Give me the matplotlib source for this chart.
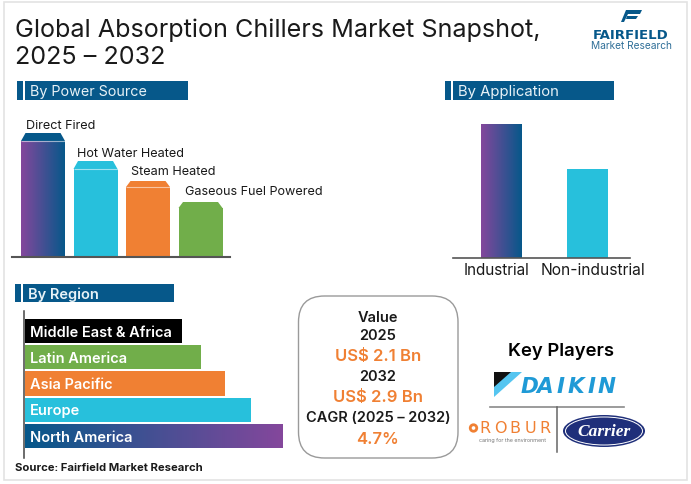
import matplotlib
matplotlib.use('Agg')
import matplotlib.pyplot as plt
import numpy as np
from matplotlib.colors import LinearSegmentedColormap
from matplotlib.patches import Rectangle, FancyBboxPatch, Ellipse, Polygon

plt.rcParams['font.family'] = ['Inter', 'DejaVu Sans']

W = 691
H = 485

PURPLE = '#84479c'
BLUE = '#06588a'
CYAN = '#27c0dc'
ORANGE = '#f08033'
GREEN = '#71ae4a'
BLACK = '#000000'
INK = '#1a1a1a'

# chart data
power_labels = ['Direct Fired', 'Hot Water Heated', 'Steam Heated', 'Gaseous Fuel Powered']
power_values = [125, 97, 77, 56]
power_caps = [BLUE, CYAN, ORANGE, GREEN]

app_labels = ['Industrial', 'Non-industrial']
app_values = [134, 89]

region_labels = ['North America', 'Europe', 'Asia Pacific', 'Latin America', 'Middle East & Africa']
region_values = [258, 226, 200, 176, 157]

snapshot_lines = ['Value', '2025', 'US$ 2.1 Bn', '2032', 'US$ 2.9 Bn', 'CAGR (2025 – 2032)', '4.7%']

fig = plt.figure(figsize=(W / 100, H / 100), dpi=100, facecolor='white')

# page layer in pixel coordinates, for frame, headers and logos
page = fig.add_axes([0, 0, 1, 1])
page.set_xlim(0, W)
page.set_ylim(H, 0)
page.axis('off')


def px_axes(x0, y0, x1, y1):
	# axes placed by pixel box of the reference
	ax = fig.add_axes([x0 / W, 1 - y1 / H, (x1 - x0) / W, (y1 - y0) / H])
	ax.patch.set_alpha(0)
	for s in ax.spines.values():
		s.set_visible(False)
	ax.set_xticks([])
	ax.set_yticks([])
	return ax


def gradient_fill(ax, patch, c0, c1):
	# paint a left to right gradient inside one bar
	cmap = LinearSegmentedColormap.from_list('g', [c0, c1])
	x, y = patch.get_xy()
	w, h = patch.get_width(), patch.get_height()
	xl, yl = ax.get_xlim(), ax.get_ylim()
	im = ax.imshow(np.linspace(0, 1, 256).reshape(1, -1), cmap=cmap, aspect='auto',
		extent=[x, x + w, y, y + h], zorder=patch.get_zorder() + 0.1)
	im.set_clip_path(patch)
	ax.set_xlim(xl)
	ax.set_ylim(yl)


def header(x0, x1, y0, y1, text, weight='normal', size=10.7):
	page.add_patch(Rectangle((x0, y0), x1 - x0, y1 - y0, color=BLUE, lw=0))
	page.add_patch(Rectangle((x0 + 6, y0), 2, y1 - y0, color='white', lw=0))
	page.text(x0 + 13, (y0 + y1) / 2 - 0.8, text, color='#e8f2f7', fontsize=size, weight=weight,
		ha='left', va='center_baseline')


def spaced_text(word, x0, x1, y, **kw):
	# logo lettering, one text per letter so it spans the logo width
	xs = np.linspace(x0, x1, len(word))
	for ch, x in zip(word, xs):
		page.text(x, y, ch, ha='center', va='center', **kw)


# outer frame
page.add_patch(Rectangle((4, 3), 683, 478, fill=False, ec='#e3e3e3', lw=1.2))

page.text(15, 30, 'Global Absorption Chillers Market Snapshot,', fontsize=18.1, color=INK, va='center')
page.text(15, 57, '2025 – 2032', fontsize=18.1, color=INK, va='center')

header(17, 188, 82, 101, 'By Power Source', size=10.3)
header(445, 614, 82, 101, 'By Application')
header(15, 174, 285, 303, 'By Region', weight='semibold', size=10.5)

# power source bars
ax1 = px_axes(12, 110, 230, 258)
ax1.set_xlim((12 - 43) / 52.5, (230 - 43) / 52.5)
ax1.set_ylim(0, 148)
cap_heights = [9, 9, 7, 7]
chamfer = 4.5 / 52.5
bw = 44 / 52.5
for i, v in enumerate(power_values):
	c = power_caps[i]
	cap_h = cap_heights[i]
	body = ax1.bar(i, v - cap_h, width=bw, color=c, lw=0, zorder=2)[0]
	if i == 0:
		gradient_fill(ax1, body, PURPLE, BLUE)
	ax1.fill([i - bw / 2, i - bw / 2 + chamfer, i + bw / 2 - chamfer, i + bw / 2],
		[v - cap_h, v - 1, v - 1, v - cap_h], color=c, lw=0, zorder=2)
	if i < 3:
		ax1.plot([i - bw / 2, i + bw / 2], [v - cap_h, v - cap_h], color='white', alpha=0.55,
			lw=0.8, zorder=3, solid_capstyle='butt')
ax1.plot(ax1.get_xlim(), [0, 0], color='#555555', lw=1.5, clip_on=False, zorder=3)
label_x = [26, 77, 131, 185]
label_y = [126, 154, 172, 192]
for i, name in enumerate(power_labels):
	page.text(label_x[i], label_y[i], name, fontsize=9.1, color=INK, ha='left', va='center')

# application bars
ax2 = px_axes(453, 110, 630, 259)
ax2.set_xlim((453 - 501.5) / 86, (630 - 501.5) / 86)
ax2.set_ylim(0, 149)
app_bars = ax2.bar(range(len(app_values)), app_values, width=41 / 86, color=CYAN, lw=0, zorder=2)
gradient_fill(ax2, app_bars[0], PURPLE, BLUE)
ax2.plot(ax2.get_xlim(), [0, 0], color='#555555', lw=1.2, clip_on=False, zorder=3)
page.text(497, 271, app_labels[0], fontsize=11, color=INK, ha='center', va='center')
page.text(593.5, 271, app_labels[1], fontsize=11.2, color=INK, ha='center', va='center')

# region bars
ax3 = px_axes(25, 312, 290, 459)
ax3.set_xlim(0, 265)
# rows spaced 26.3 px, lowest bar centred at y=437
ax3.set_ylim((437 - 459) / 26.3, (437 - 312) / 26.3)
region_colors = [BLUE, CYAN, ORANGE, GREEN, BLACK]
reg_bars = ax3.barh(range(len(region_values)), region_values, height=24.4 / 26.3,
	color=region_colors, lw=0, zorder=2)
gradient_fill(ax3, reg_bars[0], BLUE, PURPLE)
for i, name in enumerate(region_labels):
	ax3.text(5, i + 0.03, name, color='white', fontsize=10.5, weight='semibold',
		va='center_baseline', ha='left', zorder=5)
page.plot([24, 24], [312, 459], color='#444444', lw=1.1)

page.text(15, 468, 'Source: Fairfield Market Research', fontsize=8.1, weight='bold', color=INK,
	va='center')

# snapshot box
page.add_patch(FancyBboxPatch((298.5, 297), 159.5, 162,
	boxstyle='round,pad=0,rounding_size=26', fc='white', ec='#9a9a9a', lw=1))
snap_y = [318, 336, 356.5, 377.5, 397.5, 418.5, 440]
for i, line in enumerate(snapshot_lines):
	is_val = i in (2, 4, 6)
	page.text(378, snap_y[i], line, ha='center', va='center', weight='semibold',
		color=ORANGE if is_val else INK, fontsize=12 if is_val else 10.5)

# key players
page.text(561, 352, 'Key Players', fontsize=13.3, weight='semibold', color=BLACK, ha='center',
	va='center')
page.add_patch(Polygon([(494, 373), (522, 373), (494, 398)], color='#55c5f0', lw=0))
page.add_patch(Polygon([(494, 373), (511, 373), (494, 388)], color='#111111', lw=0))
spaced_text('DAIKIN', 529, 607, 387, fontsize=15.5, weight='bold', style='oblique', color='#1f9ad6',
	family=['DejaVu Sans'])
page.plot([490, 624], [408, 408], color='#8a8a8a', lw=1.2)
page.plot([557, 557], [408, 453], color='#666666', lw=1.1)

# robur logo
spaced_text('ROBUR', 485, 545, 429, fontsize=11.5, color=ORANGE, family=['DejaVu Sans'])
page.add_patch(Ellipse((473.5, 429), 6.5, 6.5, fc='none', ec=ORANGE, lw=2))
page.text(512.5, 441, 'caring for the environment', fontsize=3.9, color='#777777', ha='center',
	va='center')

# carrier logo
page.add_patch(Ellipse((604, 432), 82, 32, fc='#1f2f7a', ec='none'))
page.add_patch(Ellipse((604, 432), 77, 28, fc='none', ec='white', lw=0.7))
page.text(604, 432, 'Carrier', fontsize=12.5, style='italic', weight='bold', color='white',
	ha='center', va='center', family=['Liberation Serif', 'DejaVu Serif'])

# fairfield logo
page.add_patch(Polygon([(626, 11), (642, 11), (640, 15), (628, 15), (624, 23), (621, 23)],
	color=BLUE, lw=0))
page.add_patch(Polygon([(627, 17), (638, 17), (636, 20), (626, 20)], color=BLUE, lw=0))
page.text(631, 35.5, 'FAIRFIELD', fontsize=9.5, weight='bold', color=BLUE, ha='center', va='center',
	family=['DejaVu Sans'])
page.text(631.5, 46, 'Market Research', fontsize=7.3, color='#2f6f98', ha='center', va='center')

fig.savefig('out.png', dpi=100)
